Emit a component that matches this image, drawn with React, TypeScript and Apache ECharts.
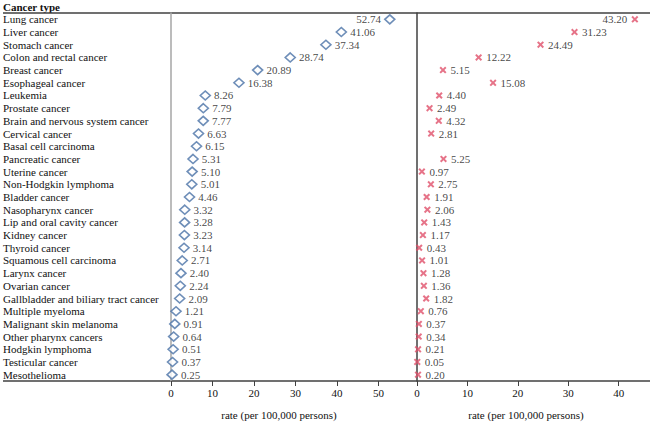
import React, { useEffect, useRef } from "react";
import * as echarts from "echarts";

const categories = [
  "Lung cancer", "Liver cancer", "Stomach cancer", "Colon and rectal cancer", "Breast cancer",
  "Esophageal cancer", "Leukemia", "Prostate cancer", "Brain and nervous system cancer", "Cervical cancer",
  "Basal cell carcinoma", "Pancreatic cancer", "Uterine cancer", "Non-Hodgkin lymphoma", "Bladder cancer",
  "Nasopharynx cancer", "Lip and oral cavity cancer", "Kidney cancer", "Thyroid cancer", "Squamous cell carcinoma",
  "Larynx cancer", "Ovarian cancer", "Gallbladder and biliary tract cancer", "Multiple myeloma",
  "Malignant skin melanoma", "Other pharynx cancers", "Hodgkin lymphoma", "Testicular cancer", "Mesothelioma",
];

const leftValues = [
  52.74, 41.06, 37.34, 28.74, 20.89, 16.38, 8.26, 7.79, 7.77, 6.63, 6.15, 5.31, 5.10, 5.01, 4.46,
  3.32, 3.28, 3.23, 3.14, 2.71, 2.40, 2.24, 2.09, 1.21, 0.91, 0.64, 0.51, 0.37, 0.25,
];

const rightValues: (number | null)[] = [
  43.20, 31.23, 24.49, 12.22, 5.15, 15.08, 4.40, 2.49, 4.32, 2.81, null, 5.25, 0.97, 2.75, 1.91,
  2.06, 1.43, 1.17, 0.43, 1.01, 1.28, 1.36, 1.82, 0.76, 0.37, 0.34, 0.21, 0.05, 0.20,
];

const leftTicks = [0, 10, 20, 30, 40, 50];
const rightTicks = [0, 10, 20, 30, 40];
const axisTitle = "rate (per 100,000 persons)";
const headerTitle = "Cancer type";

const FONT = "'Liberation Serif', 'Times New Roman', serif";
const X_PATH = "path://M0,2 L2,0 L5,3 L8,0 L10,2 L7,5 L10,8 L8,10 L5,7 L2,10 L0,8 L3,5 Z";

export default function App() {
  const ref = useRef<HTMLDivElement>(null);
  useEffect(() => {
    if (!ref.current) return;
    const chart = echarts.init(ref.current, null, { renderer: "svg" });
    const top = 13;
    const bottom = 427 - 381;
    const leftMax = 59.3;
    const rightMax = 46.2;
    const leftMaxVal = Math.max(...leftValues);
    const rightMaxVal = Math.max(...(rightValues.filter((v) => v != null) as number[]));

    const xAxisCommon = (ticks: number[], max: number, gridIndex: number) => ({
      type: "value",
      gridIndex,
      min: 0,
      max,
      splitLine: { show: false },
      axisLine: { show: false },
      axisTick: { show: true, length: 5, lineStyle: { color: "#404040" }, customValues: ticks },
      axisLabel: {
        customValues: ticks,
        fontFamily: FONT,
        fontSize: 11,
        color: "#111",
        margin: 6,
      },
    });

    chart.setOption({
      animation: false,
      textStyle: { fontFamily: FONT },
      grid: [
        { left: 171, width: 246, top, bottom, containLabel: false },
        { left: 417, right: 0, top, bottom, containLabel: false },
      ],
      xAxis: [xAxisCommon(leftTicks, leftMax, 0), xAxisCommon(rightTicks, rightMax, 1)],
      yAxis: [
        {
          type: "category",
          gridIndex: 0,
          data: categories,
          inverse: true,
          axisLine: { show: true, lineStyle: { color: "#a6a6a6", width: 1.5 } },
          axisTick: { show: false },
          axisLabel: {
            interval: 0,
            align: "left",
            margin: 168,
            fontFamily: FONT,
            fontSize: 11,
            color: "#111",
          },
        },
        {
          type: "category",
          gridIndex: 1,
          data: categories,
          inverse: true,
          axisLine: { show: true, lineStyle: { color: "#404040", width: 1.5 } },
          axisTick: { show: false },
          axisLabel: { show: false },
        },
      ],
      series: [
        {
          type: "scatter",
          xAxisIndex: 0,
          yAxisIndex: 0,
          data: leftValues.map((v) => ({
            value: v,
            label: { position: v === leftMaxVal ? "left" : "right" },
          })),
          symbol: "diamond",
          symbolSize: [10, 9],
          itemStyle: { color: "#ffffff", borderColor: "#4a72a6", borderWidth: 1.6 },
          label: {
            show: true,
            distance: 3,
            fontFamily: FONT,
            fontSize: 11,
            color: "#111",
            formatter: (p: any) => Number(p.value).toFixed(2),
          },
        },
        {
          type: "scatter",
          xAxisIndex: 1,
          yAxisIndex: 1,
          data: rightValues.map((v) =>
            v == null
              ? { value: null }
              : { value: v, label: { position: v === rightMaxVal ? "left" : "right" } }
          ),
          symbol: X_PATH,
          symbolSize: [7, 7],
          itemStyle: { color: "#e0506a" },
          label: {
            show: true,
            distance: 4,
            fontFamily: FONT,
            fontSize: 11,
            color: "#111",
            formatter: (p: any) => (p.value == null ? "" : Number(p.value).toFixed(2)),
          },
        },
      ],
      graphic: [
        {
          type: "text",
          left: 3,
          top: 1,
          style: { text: headerTitle, fontFamily: FONT, fontSize: 11, fontWeight: "bold", fill: "#111" },
        },
        {
          type: "line",
          shape: { x1: 3, y1: 13, x2: 650, y2: 13 },
          style: { stroke: "#404040", lineWidth: 1.5 },
        },
        {
          type: "line",
          shape: { x1: 3, y1: 381, x2: 650, y2: 381 },
          style: { stroke: "#404040", lineWidth: 1.5 },
        },
        {
          type: "text",
          x: 279,
          y: 415,
          style: { text: axisTitle, fontFamily: FONT, fontSize: 11, fill: "#111", align: "center", verticalAlign: "middle" },
        },
        {
          type: "text",
          x: 526,
          y: 415,
          style: { text: axisTitle, fontFamily: FONT, fontSize: 11, fill: "#111", align: "center", verticalAlign: "middle" },
        },
      ],
    });
    return () => chart.dispose();
  }, []);
  return <div ref={ref} style={{ width: 650, height: 427, position: "absolute", left: 0, top: 0 }} />;
}
